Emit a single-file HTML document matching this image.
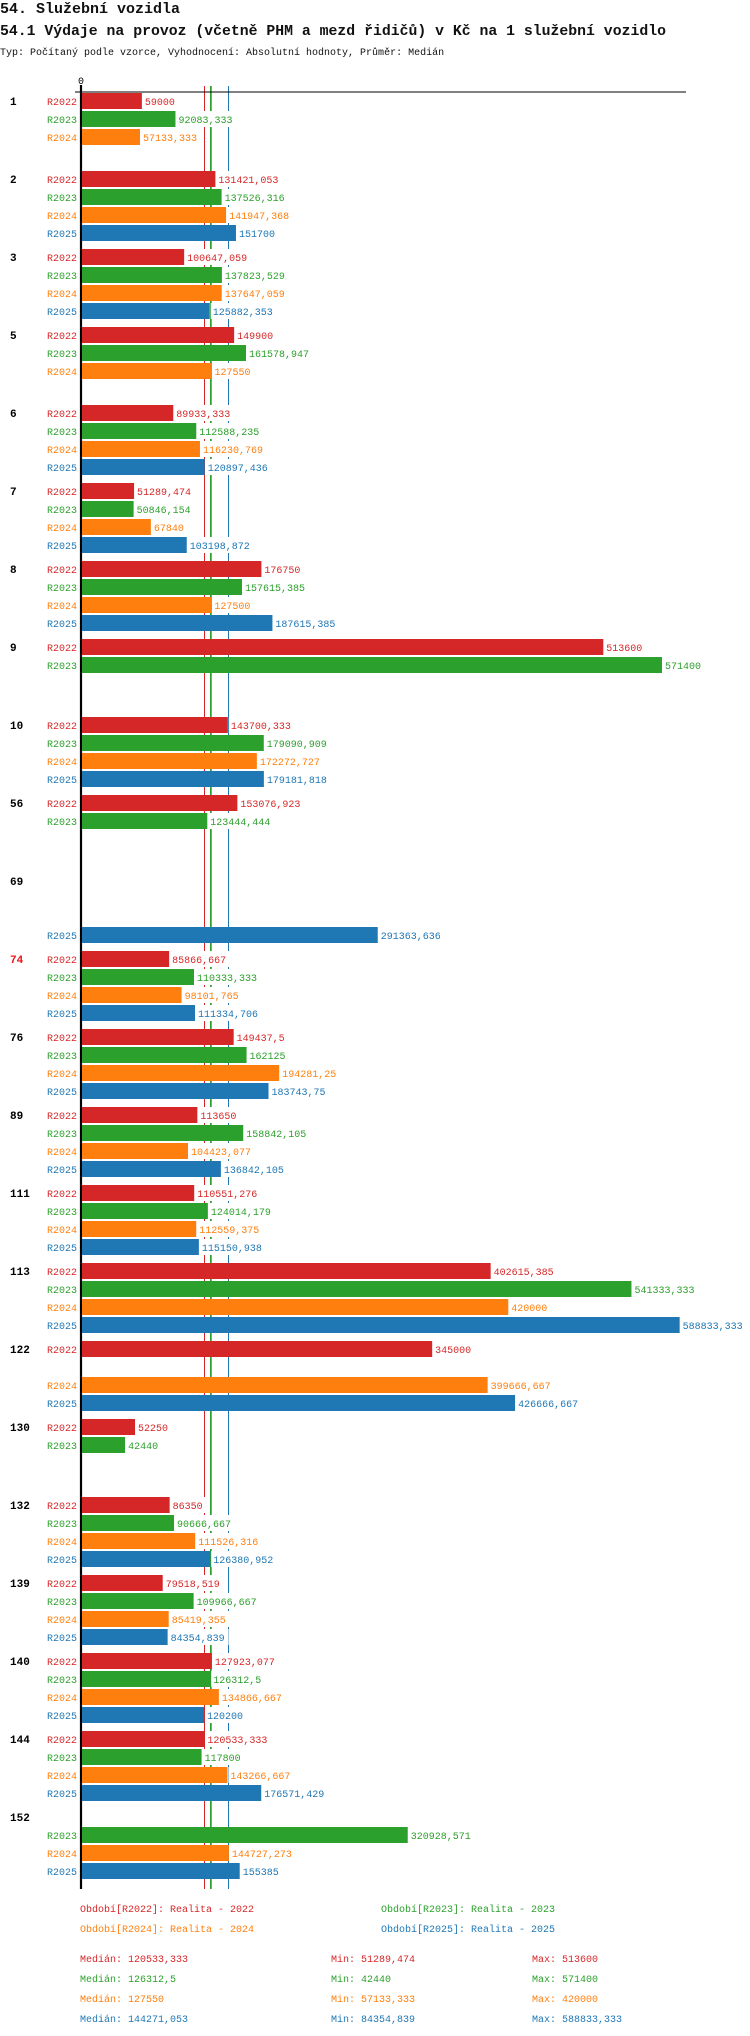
<!DOCTYPE html>
<html><head><meta charset="utf-8">
<style>
body{margin:0;background:#fff;width:750px;height:2036px;overflow:hidden;font-family:"Liberation Mono",monospace;}
svg{display:block}
</style></head>
<body>
<svg id="chart" width="750" height="2036" xmlns="http://www.w3.org/2000/svg" font-family="Liberation Mono, DejaVu Sans Mono, monospace">
<text x="0" y="13" font-size="15" font-weight="bold" fill="#111">54. Služební vozidla</text>
<text x="0" y="35" font-size="14.8" font-weight="bold" fill="#111">54.1 Výdaje na provoz (včetně PHM a mezd řidičů) v Kč na 1 služební vozidlo</text>
<text x="0" y="55" font-size="10" fill="#111">Typ: Počítaný podle vzorce, Vyhodnocení: Absolutní hodnoty, Průměr: Medián</text>
<g id="plot"></g>
</svg>
<script>
const groups = ["1","2","3","5","6","7","8","9","10","56","69","74","76","89","111","113","122","130","132","139","140","144","152"];
const seriesNames = ["R2022","R2023","R2024","R2025"];
const r2022 = [59000,131421.053,100647.059,149900,89933.333,51289.474,176750,513600,143700.333,153076.923,null,85866.667,149437.5,113650,110551.276,402615.385,345000,52250,86350,79518.519,127923.077,120533.333,null];
const r2023 = [92083.333,137526.316,137823.529,161578.947,112588.235,50846.154,157615.385,571400,179090.909,123444.444,null,110333.333,162125,158842.105,124014.179,541333.333,null,42440,90666.667,109966.667,126312.5,117800,320928.571];
const r2024 = [57133.333,141947.368,137647.059,127550,116230.769,67840,127500,null,172272.727,null,null,98101.765,194281.25,104423.077,112559.375,420000,399666.667,null,111526.316,85419.355,134866.667,143266.667,144727.273];
const r2025 = [null,151700,125882.353,null,120897.436,103198.872,187615.385,null,179181.818,null,291363.636,111334.706,183743.75,136842.105,115150.938,588833.333,426666.667,null,126380.952,84354.839,120200,176571.429,155385];
const medians = [120533.333,126312.5,127550,144271.053];
const mins = [51289.474,42440,57133.333,84354.839];
const maxs = [513600,571400,420000,588833.333];
const colors = ["#d62728","#2ca02c","#ff7f0e","#1f77b4"];
const highlightGroup = "74";

const NS="http://www.w3.org/2000/svg";
const plot=document.getElementById('plot');
const X0=82, K=0.001015, TOP=93, GP=78, SP=18, BH=16;
const xs=v=>X0+v*K;
const ys=(g,s)=>TOP+g*GP+s*SP;
const fmt=v=>String(Math.round(v*1000)/1000).replace('.',',');
function mk(tag,attrs,parent){const e=document.createElementNS(NS,tag);for(const k in attrs)e.setAttribute(k,attrs[k]);(parent||plot).appendChild(e);return e;}
const data=[r2022,r2023,r2024,r2025];
const bottom=ys(groups.length-1,3)+BH+10;

medians.forEach((m,i)=>{
  const l=mk('line',{x1:Math.round(xs(m))+0.5,x2:Math.round(xs(m))+0.5,y1:86,y2:bottom,stroke:colors[i],'stroke-width':1});
  
  
});
const ax=mk('line',{x1:81,x2:81,y1:85,y2:bottom,stroke:'#000','stroke-width':2.2});


const hx=mk('line',{x1:75,x2:686,y1:92,y2:92,stroke:'#000','stroke-width':1});


const z=mk('text',{x:81,y:84,'font-size':10,'text-anchor':'middle',fill:'#000'});z.textContent='0';



groups.forEach((g,gi)=>{
  const gl=mk('text',{x:10,y:ys(gi,0)+12,'font-size':11,'font-weight':'bold',fill:g===highlightGroup?'#e8141b':'#000'});
  gl.textContent=g;
  
  
  data.forEach((arr,si)=>{
    const v=arr[gi]; if(v==null) return;
    const y=ys(gi,si);
    const rl=mk('text',{x:77,y:y+12,'font-size':10,'text-anchor':'end',fill:colors[si]});
    rl.textContent=seriesNames[si];
    
    
    const b=mk('rect',{x:X0,y:y,width:xs(v)-X0,height:BH,fill:colors[si]});
    
    
    const s=fmt(v);
    const bg=mk('rect',{x:xs(v)+1,y:y,width:s.length*6+6,height:BH,fill:'#fff'});
    
    
    const t=mk('text',{x:xs(v)+3,y:y+12,'font-size':10,fill:colors[si]});
    t.textContent=s;
    
    
  });
});

const legendYears=["2022","2023","2024","2025"];
const legPos=[[80,1912],[381,1912],[80,1932],[381,1932]];
seriesNames.forEach((n,i)=>{
  const t=mk('text',{x:legPos[i][0],y:legPos[i][1],'font-size':10,fill:colors[i]});
  t.textContent='Období['+n+']: Realita - '+legendYears[i];
  
  
});
seriesNames.forEach((n,i)=>{
  const y=1962+i*20;
  const a=mk('text',{x:80,y:y,'font-size':10,fill:colors[i]});a.textContent='Medián: '+fmt(medians[i]);
  
  
  const b=mk('text',{x:331,y:y,'font-size':10,fill:colors[i]});b.textContent='Min: '+fmt(mins[i]);
  
  
  const c=mk('text',{x:532,y:y,'font-size':10,fill:colors[i]});c.textContent='Max: '+fmt(maxs[i]);
  
  
});
</script>
</body></html>
